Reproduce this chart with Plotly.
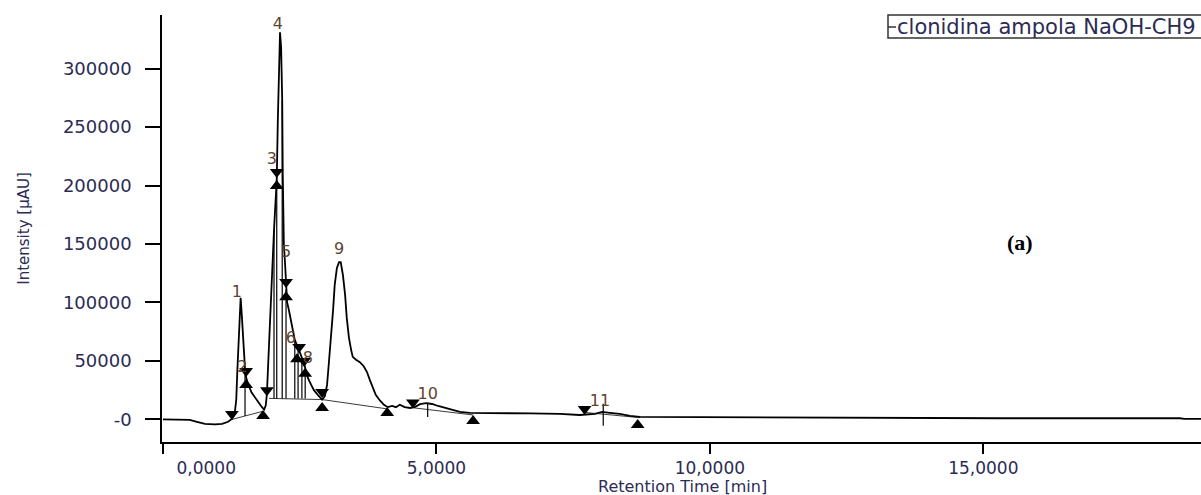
import plotly.graph_objects as go

# Chromatogram trace: retention time (min) vs detector intensity (µAU)
time_min = [0.00, 0.22, 0.49, 0.62, 0.77, 0.95, 1.08, 1.19, 1.26, 1.31, 1.34, 1.36, 1.38, 1.40,
            1.42, 1.44, 1.46, 1.48, 1.50, 1.52, 1.55, 1.62, 1.72, 1.81, 1.85, 1.88, 1.90, 1.92,
            1.96, 1.99, 2.03, 2.06, 2.08, 2.10, 2.12, 2.14, 2.16, 2.18, 2.19, 2.21, 2.23, 2.24,
            2.25, 2.27, 2.30, 2.34, 2.38, 2.41, 2.45, 2.49, 2.54, 2.58, 2.61, 2.65, 2.71, 2.76,
            2.83, 2.91, 2.96, 3.00, 3.03, 3.07, 3.11, 3.14, 3.18, 3.22, 3.25, 3.29, 3.33, 3.36,
            3.40, 3.44, 3.47, 3.53, 3.60, 3.67, 3.73, 3.78, 3.84, 3.89, 3.97, 4.04, 4.11, 4.19,
            4.26, 4.33, 4.42, 4.52, 4.61, 4.70, 4.81, 4.92, 5.03, 5.16, 5.28, 5.43, 5.61, 5.80,
            6.16, 6.71, 7.26, 7.62, 7.90, 8.03, 8.17, 8.35, 8.54, 8.72, 9.82, 12.56, 15.30,
            18.59, 18.68, 18.98]
intensity = [0, 0, -400, -2000, -3800, -4300, -3800, -2000, 500, 4500, 17000, 42000, 68000, 93000,
             104000, 90000, 72000, 55000, 43000, 36000, 31000, 23000, 16000, 10500, 8500, 12000, 22000, 42000,
             76000, 119000, 162000, 192000, 205000, 256000, 307000, 331000, 318000, 273000, 210000, 150000, 135000, 125000,
             111000, 100000, 94000, 85000, 76000, 68000, 63500, 59000, 52500, 48000, 42000, 35500, 29500, 25000,
             21000, 17000, 20000, 29500, 46500, 68000, 93500, 115000, 129500, 134500, 134500, 123500, 106500, 87000,
             70000, 59500, 53500, 51000, 49000, 45500, 40500, 34000, 27000, 21000, 16000, 12500, 10500, 11500,
             10500, 12500, 10500, 9800, 10700, 13000, 14000, 13200, 11500, 9800, 8000, 6400, 5600, 5600,
             5600, 5100, 4700, 3800, 4700, 6400, 5600, 4700, 3000, 2100, 1900, 1300, 1000,
             1000, 400, 400]

# Peak start (▼) and peak end (▲) flags
start_t = [1.26, 1.52, 1.90, 2.08, 2.25, 2.49, 2.58, 2.91, 4.57, 7.71]
start_i = [4700, 41500, 25000, 211500, 117500, 62000, 50000, 23500, 14500, 9000]
end_t = [1.52, 1.83, 2.08, 2.25, 2.45, 2.60, 2.91, 4.10, 5.67, 8.68]
end_i = [29500, 3000, 199500, 104500, 51500, 39000, 9800, 5600, -1300, -4700]

# Peak numbers
peak_ids = ["1", "2", "3", "4", "5", "6", "8", "9", "10", "11"]
peak_t = [1.35, 1.45, 1.99, 2.10, 2.25, 2.34, 2.65, 3.22, 4.84, 7.99]
peak_i = [108000, 44000, 222000, 337000, 142000, 69000, 51500, 145000, 21000, 15000]

# Drop lines separating co-eluting peaks
drop_t = [1.50, 2.03, 2.08, 2.18, 2.25, 2.41, 2.47, 2.54, 2.60]
drop_lo = [3000, 17800, 17800, 17800, 17800, 17800, 17800, 17800, 17800]
drop_hi = [43000, 162000, 205000, 273000, 111000, 68000, 61000, 52500, 42000]

# Integration baselines (start point -> end point)
base_t0 = [1.26, 1.94, 2.91, 4.57, 7.71]
base_i0 = [0, 18000, 17000, 10000, 6000]
base_t1 = [1.83, 2.91, 4.10, 5.67, 8.72]
base_i1 = [7000, 17000, 9000, 3800, 1500]

# Apex marks for the small late peaks
apex_t = [4.84, 8.05]
apex_lo = [2000, -5500]
apex_hi = [14500, 13500]

x_ticks = [0, 5, 10, 15]
x_ticktext = ["\u00a0" * 16 + "0,0000", "5,0000", "10,0000", "15,0000"]
y_ticks = [0, 50000, 100000, 150000, 200000, 250000, 300000]
y_ticktext = ["-0", "50000", "100000", "150000", "200000", "250000", "300000"]

sample_name = "clonidina ampola NaOH-CH9"

FONT = "DejaVu Sans"
TXT = "#2b2b55"

# plot area in pixels
L, T, W, H = 162, 15, 1039, 427


def px_x(p):
    return (p - L) / W


def px_y(p):
    return (T + H - p) / H


def segments(xs0, ys0, xs1, ys1):
    xs, ys = [], []
    for a, b, c, d in zip(xs0, ys0, xs1, ys1):
        xs += [a, c, None]
        ys += [b, d, None]
    return xs, ys


fig = go.Figure()

bx, by = segments(base_t0, base_i0, base_t1, base_i1)
fig.add_trace(go.Scatter(x=bx, y=by, mode="lines", line=dict(color="#3a3a3a", width=1),
                         hoverinfo="skip", showlegend=False))

dx, dy = segments(drop_t, drop_lo, drop_t, drop_hi)
fig.add_trace(go.Scatter(x=dx, y=dy, mode="lines", line=dict(color="black", width=1.2),
                         hoverinfo="skip", showlegend=False))

ax, ay = segments(apex_t, apex_lo, apex_t, apex_hi)
fig.add_trace(go.Scatter(x=ax, y=ay, mode="lines", line=dict(color="black", width=1.2),
                         hoverinfo="skip", showlegend=False))

fig.add_trace(go.Scatter(x=time_min, y=intensity, mode="lines", name=sample_name,
                         line=dict(color="black", width=1.8), showlegend=False))

fig.add_trace(go.Scatter(x=start_t, y=start_i, mode="markers",
                         marker=dict(symbol="triangle-down", size=12, color="black"),
                         showlegend=False))
fig.add_trace(go.Scatter(x=end_t, y=end_i, mode="markers",
                         marker=dict(symbol="triangle-up", size=12, color="black"),
                         showlegend=False))

fig.add_trace(go.Scatter(x=peak_t, y=peak_i, mode="text", text=peak_ids,
                         textfont=dict(family=FONT, size=16, color="#5e4330"),
                         textposition="middle center", showlegend=False))

# Sample-name box in the upper right
fig.add_shape(type="rect", xref="paper", yref="paper",
              x0=px_x(888), x1=1.05, y0=px_y(38), y1=px_y(15),
              line=dict(color="#333333", width=1.5), fillcolor="white", layer="above")
fig.add_shape(type="line", xref="paper", yref="paper",
              x0=px_x(888), x1=px_x(896), y0=px_y(27), y1=px_y(27),
              line=dict(color="#333333", width=1.5))
fig.add_annotation(text=sample_name, xref="paper", yref="paper",
                   x=px_x(895), y=px_y(27), xanchor="left", yanchor="middle",
                   showarrow=False, font=dict(family=FONT, size=21, color=TXT))

fig.add_annotation(text="<b>(a)</b>", xref="paper", yref="paper",
                   x=px_x(1020), y=px_y(243), xanchor="center", yanchor="middle",
                   showarrow=False, font=dict(family="Liberation Serif", size=22, color="black"))

# x-axis title sits close under the tick labels
fig.add_annotation(text="Retention Time [min]", xref="paper", yref="paper",
                   x=px_x(682), y=px_y(487), xanchor="center", yanchor="middle",
                   showarrow=False, font=dict(family=FONT, size=16, color=TXT))

fig.update_layout(
    width=1201, height=495,
    margin=dict(l=L, r=0, t=T, b=495 - T - H),
    paper_bgcolor="white", plot_bgcolor="white",
    showlegend=False,
    xaxis=dict(
        range=[-0.018, 18.98], showgrid=False, zeroline=False,
        showline=True, linecolor="black", linewidth=1.5,
        ticks="outside", ticklen=10, tickwidth=1.5, tickcolor="black",
        tickvals=x_ticks, ticktext=x_ticktext,
        tickfont=dict(family=FONT, size=17, color=TXT),
    ),
    yaxis=dict(
        range=[-19300, 345800], showgrid=False, zeroline=False,
        showline=True, linecolor="black", linewidth=1.5,
        ticks="outside", ticklen=15, tickwidth=1.5, tickcolor="black",
        tickvals=y_ticks, ticktext=y_ticktext, ticklabelstandoff=10,
        tickfont=dict(family=FONT, size=18, color=TXT),
        title=dict(text="Intensity [µAU]", font=dict(family=FONT, size=15, color=TXT), standoff=30),
    ),
)

fig.write_html("out.html")
